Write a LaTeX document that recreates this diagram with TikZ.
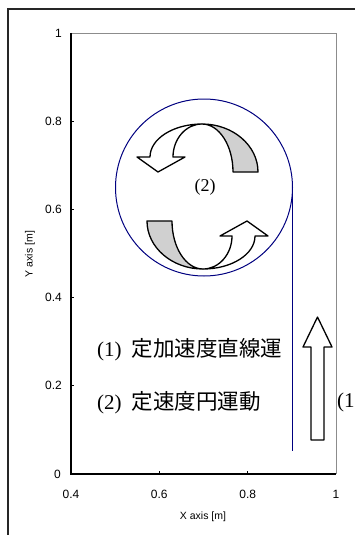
\documentclass[tikz,border=0pt]{standalone}
\usepackage{fontspec}
\setmainfont{Liberation Serif}
\newfontfamily\cjk{Noto Sans CJK JP}
\newfontfamily\arialf{Liberation Sans}
\definecolor{navyline}{RGB}{0,0,128}
\definecolor{bandgray}{RGB}{208,208,208}
\definecolor{framegray}{RGB}{140,140,140}
\newcommand{\cjkbig}[1]{{\cjk\fontsize{21.5}{23}\selectfont #1}}
\tikzset{
  ticklab/.style={font=\arialf\fontsize{12}{13}\selectfont, inner sep=0pt},
  axtitle/.style={font=\arialf\fontsize{10.5}{12}\selectfont, inner sep=0pt},
  bigtxt/.style={font=\fontsize{21}{23}\selectfont, inner sep=0pt},
  shapeline/.style={draw=black, line width=1.3pt, line join=round},
}
\begin{document}
\begin{tikzpicture}[x=1pt,y=-1pt]
\useasboundingbox (0,0) rectangle (355,535);
\clip (0,0) rectangle (355,535);
\fill[white] (0,0) rectangle (355,535);
% outer frame
\draw[line width=1.2pt, black!85] (8,535) -- (8,9) -- (356,9);
% plot area
\draw[framegray, line width=0.9pt] (71,33) -- (336,33) -- (336,474);
\draw[black, line width=1.1pt] (71,33) -- (71,474) -- (336,474);
\foreach \yy in {121.2,209.4,297.6,385.8} \draw[black, line width=0.9pt] (71,\yy) -- (74,\yy);
\foreach \xx in {159.3,247.7} \draw[black, line width=0.9pt] (\xx,474) -- (\xx,471);
% tick labels
\node[ticklab, anchor=east] (y10) at (62,33) {1};
\node[ticklab, anchor=east] (y08) at (62,121.2) {0.8};
\node[ticklab, anchor=east] (y06) at (62,209.4) {0.6};
\node[ticklab, anchor=east] (y04) at (62,297.6) {0.4};
\node[ticklab, anchor=east] (y02) at (62,385.8) {0.2};
\node[ticklab, anchor=east] (y00) at (61,474.5) {0};
\node[ticklab] (x04) at (71,494) {0.4};
\node[ticklab] (x06) at (159.3,494) {0.6};
\node[ticklab] (x08) at (247.7,494) {0.8};
\node[ticklab] (x10) at (336,494) {1};
\node[axtitle] (xt) at (203,517) {X axis [m]};
\node[axtitle, rotate=90] (yt) at (30,254) {Y axis [m]};
% trajectory
\draw[navyline, line width=1pt] (204,187.5) circle (88.5);
\draw[navyline, line width=1pt] (292.5,187.5) -- (292.5,451);
% curved arrows
\foreach \rr in {0,180} {
\begin{scope}[rotate around={\rr:(202.5,196.5)}]
  \filldraw[shapeline, fill=bandgray] (202,124) .. controls (232.9,124) and (258,145.5) .. (258,172)
     -- (233,172) .. controls (233,145.5) and (219.1,124) .. (202,124) -- cycle;
  \filldraw[shapeline, fill=white] (202,124) .. controls (173.3,124) and (150,138.8) .. (150,157)
     -- (137,157) -- (158,172) -- (185,157) -- (173,157)
     .. controls (173,138.8) and (186,124) .. (202,124) -- cycle;
\end{scope}
}
\node[font=\fontsize{18}{20}\selectfont, inner sep=0pt] (c2) at (205,187) {(2)};
% straight arrow
\filldraw[shapeline, fill=white] (311,440) -- (311,347) -- (303,347) -- (317.5,317)
  -- (332,347) -- (324,347) -- (324,440) -- cycle;
% texts
\node[bigtxt, anchor=west] (t1) at (97,350) {(1)\hspace{10pt}\cjkbig{定加速度直線運}};
\node[bigtxt, anchor=west] (t2) at (97,403) {(2)\hspace{10pt}\cjkbig{定速度円運動}};
\node[bigtxt, anchor=west] (t3) at (337,402) {(1)};
\end{tikzpicture}
\end{document}
